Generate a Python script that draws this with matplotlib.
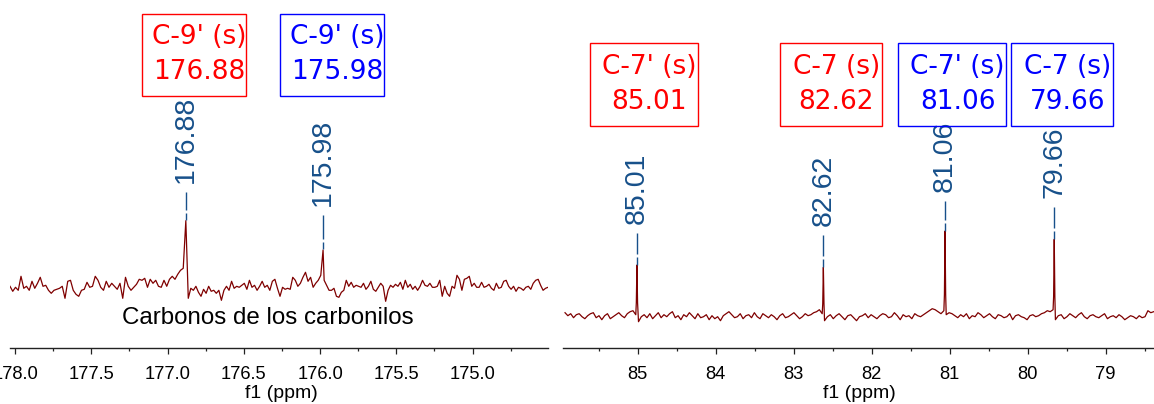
import numpy as np
import matplotlib
matplotlib.use("Agg")
import matplotlib.pyplot as plt
from matplotlib.patches import Rectangle
from matplotlib.ticker import MultipleLocator, FormatStrFormatter

# ---------------- data ----------------
# Left panel: carbonyl region
left_xlim = (178.033, 174.505)
left_segments = [(178.033, 176.897), (176.864, 175.995), (175.973, 174.505)]
left_noise_a = [2, -3, 1, -2, 12, 0, 2, -2, 7, 0, 5, 11, 2, 3, -2, -5, -2, -1, 0, 2,
                -10, 7, 8, -2, -6, -8, -2, -1, 6, 1, 2, 12, 8, 1, -2, 7, 1, 5, 2, -1,
                5, -10, 11, 2, -2, 1, 4, 9, 8, 10, 1, 9, 5, 8, 2, 1, 8, 2, 9, 12,
                9, 14, 18, 20]
left_noise_b = [-10, 0, -2, 2, -4, -8, -1, -5, 2, -3, -2, -5, -2, -12, -2, 2, -2, 7, 0, 2,
                1, 3, 5, -1, 8, 1, 3, -2, 2, 7, 1, 3, -2, 7, 9, 0, -8, 1, -1, 0,
                -1, 11, 8, 2, 5, 11, 16, 7, 11, 1, 5, 8, 13]
left_noise_c = [8, 3, -2, -2, 0, -8, -9, -4, -2, 8, 2, 6, 1, 3, 2, 1, 5, -1, 2, 7,
                -1, -3, 1, 5, 2, -13, -2, 3, 1, 4, 2, 6, -1, 8, 1, 4, -1, 2, -2, 2,
                8, 3, 2, 5, 1, 1, 2, 8, -8, 2, -5, -8, 2, 0, 13, 9, -2, 9, 10, 12,
                2, 5, 1, 1, 6, 1, 2, 4, 0, -2, 5, 0, 1, 7, 8, 2, -1, 2, -3, 1,
                0, -2, 1, 2, -1, 5, 8, 9, 3, -2, 0, 1]
left_peaks = [176.88, 175.98]
left_heights = [67.6, 38.3]
left_label_base = [105.5, 82.0]
left_ylim = (-59.7, 288.3)
left_ticks_major = [178.0, 177.5, 177.0, 176.5, 176.0, 175.5, 175.0]

# Right panel: C-7 / C-7' region
right_xlim = (85.958, 78.381)
right_segments = [(85.932, 85.025), (84.99, 82.635), (82.605, 81.075),
                  (81.045, 79.675), (79.645, 78.385)]
right_noise_a = [4, 1, 3, -1, 2, 3, 0, -2, 1, 3, 4, -1, 1, -3, 1, 3, -2, 0, 2, 4,
                 1, -1, 3, 5, 6, 2]
right_noise_b = [-5, 0, 2, -1, 3, -2, 1, 4, -1, 2, 0, 3, 5, -1, 1, -3, 2, 0, 4, 1,
                 -2, 3, -1, 0, 2, -3, 1, -2, 0, -4, 1, 3, 5, 2, -1, 0, 3, -2, 1, 2,
                 -1, 4, 0, -2, 3, 1, -1, 2, 0, -3, 1, 3, -1, 0, 2, 4, 1, -2, 0, 3,
                 1, 2, 4, 5, 7, 3]
right_noise_c = [-4, 0, 2, -2, 1, 3, 0, -3, 1, 2, -1, -4, 0, 1, 3, -1, 2, 0, -2, 1,
                 3, 2, -1, 0, 4, 1, -3, 2, 0, 1, -2, 3, 1, 0, 2, 4, 6, 8, 7, 5,
                 3, 6]
right_noise_d = [2, 4, 3, 1, -1, 2, 0, 3, -2, 1, 0, 4, 2, -1, 1, 3, 0, -2, 2, 1,
                 -1, 0, 3, -3, 1, 2, 0, -1, -3, 1, 2, 0, 1, 3, 4, 6, 5, 7]
right_noise_e = [-3, 1, 2, -2, 0, 3, 1, -1, 2, 4, 0, -2, 1, 2, 0, -1, 1, 3, -2, 0,
                 1, -1, 2, 0, -3, -1, 1, 0, -2, 1, -1, 0, 6, 4, 5]
right_peaks = [85.01, 82.62, 81.06, 79.66]
right_heights = [51.7, 49.4, 85.7, 77.4]
# shoulders of each right-panel line (ppm offset, height)
right_shoulder_dx = 0.008
right_shoulder_h = [14.0, 13.0, 22.0, 20.0]
right_label_base = [92.4, 91.0, 125.0, 118.7]
right_ylim = (-31.3, 316.7)
right_ticks_major = [85, 84, 83, 82, 81, 80, 79]

# Assignment boxes: (line1, line2, colour)
box_texts = [("C-9' (s)", "176.88", "red"), ("C-9' (s)", "175.98", "blue"),
             ("C-7' (s)", "85.01", "red"), ("C-7 (s)", "82.62", "red"),
             ("C-7' (s)", "81.06", "blue"), ("C-7 (s)", "79.66", "blue")]
region_caption = "Carbonos de los carbonilos"
axis_label = "f1 (ppm)"

# ---------------- layout / style ----------------
W, H = 1154, 404
SPEC = "#7f0000"
LBL = "#17508a"
TICKFONT = "Liberation Sans"
BOXFONT = "DejaVu Sans"

def fx(px):
    return px / W

def fy(py):
    return 1 - py / H

fig = plt.figure(figsize=(W / 100, H / 100), dpi=100)
ax_l = fig.add_axes([fx(10), fy(348), 538 / W, 348 / H])
ax_r = fig.add_axes([fx(563), fy(348), 591 / W, 348 / H])


def build(segments, noises, px, py):
    xs, ys = [], []
    for (a, b), n in zip(segments, noises):
        xs.append(np.linspace(a, b, len(n)))
        ys.append(np.asarray(n, float))
    xs.append(np.asarray(px, float))
    ys.append(np.asarray(py, float))
    x = np.concatenate(xs)
    y = np.concatenate(ys)
    o = np.argsort(-x)
    return x[o], y[o]


def style(ax, xlim, ylim, ticks, minor, fmt):
    ax.set_xlim(*xlim)
    ax.set_ylim(*ylim)
    for s in ("top", "left", "right"):
        ax.spines[s].set_visible(False)
    ax.spines["bottom"].set_color("#222222")
    ax.spines["bottom"].set_linewidth(1.0)
    ax.set_yticks([])
    ax.set_xticks(ticks)
    ax.xaxis.set_minor_locator(MultipleLocator(minor))
    ax.xaxis.set_major_formatter(FormatStrFormatter(fmt))
    ax.tick_params(axis="x", which="major", direction="out", length=4.2, width=0.9,
                   pad=8.5, labelsize=13.2, colors="#222222", labelcolor="black")
    ax.tick_params(axis="x", which="minor", direction="out", length=2.4, width=0.9,
                   colors="#222222")
    for lab in ax.get_xticklabels():
        lab.set_family(TICKFONT)
    ax.patch.set_alpha(0)


def peaks_labels(ax, peaks, heights, bases):
    for p, h, b in zip(peaks, heights, bases):
        ax.plot([p, p], [h + 0.5, h + 8], color=LBL, lw=1.0, solid_capstyle="butt")
        ax.plot([p, p], [h + 11, b - 9], color=LBL, lw=1.0, solid_capstyle="butt")
        ax.text(p, b, f"{p:.2f}", rotation=90, ha="center", va="bottom",
                color=LBL, fontsize=20.5, family=TICKFONT)


xl, yl = build(left_segments, [left_noise_a, left_noise_b, left_noise_c],
               left_peaks, left_heights)
ax_l.plot(xl, yl, color=SPEC, lw=0.9)
style(ax_l, left_xlim, left_ylim, left_ticks_major, 0.25, "%.1f")
peaks_labels(ax_l, left_peaks, left_heights, left_label_base)

r_px = list(right_peaks)
r_py = list(right_heights)
for p, sh in zip(right_peaks, right_shoulder_h):
    r_px += [p - right_shoulder_dx, p + right_shoulder_dx]
    r_py += [sh, sh]
xr, yr = build(right_segments, [right_noise_a, right_noise_b, right_noise_c,
                                right_noise_d, right_noise_e], r_px, r_py)
ax_r.plot(xr, yr, color=SPEC, lw=0.9)
style(ax_r, right_xlim, right_ylim, right_ticks_major, 0.5, "%d")
peaks_labels(ax_r, right_peaks, right_heights, right_label_base)

# axis labels
fig.text(fx(281), fy(398), axis_label, ha="center", va="baseline",
         fontsize=14, family=TICKFONT)
fig.text(fx(859), fy(398), axis_label, ha="center", va="baseline",
         fontsize=14, family=TICKFONT)

# caption
fig.text(fx(268), fy(324.5), region_caption, ha="center", va="baseline",
         fontsize=17.4, family=TICKFONT, color="black")

# boxes
box_geom = [(141.8, 13.7, 245.5, 96.2), (279.6, 13.7, 384.0, 96.2),
            (590.0, 43.3, 697.7, 125.7), (780.0, 43.3, 881.7, 125.7),
            (898.3, 43.3, 1006.0, 125.7), (1011.0, 43.3, 1113.0, 125.7)]
for (t1, t2, col), (x0, y0, x1, y1) in zip(box_texts, box_geom):
    fig.add_artist(Rectangle((fx(x0), fy(y1)), (x1 - x0) / W, (y1 - y0) / H,
                             transform=fig.transFigure, fill=False,
                             edgecolor=col, lw=1.0))
    cx = (x0 + x1) / 2 + 5.5
    fig.text(fx(cx), fy(y0 + 23.7), t1, ha="center", va="center", color=col,
             fontsize=19, family=BOXFONT)
    fig.text(fx(cx), fy(y0 + 58.4), t2, ha="center", va="center", color=col,
             fontsize=19, family=BOXFONT)

fig.savefig("out.png", dpi=100)
